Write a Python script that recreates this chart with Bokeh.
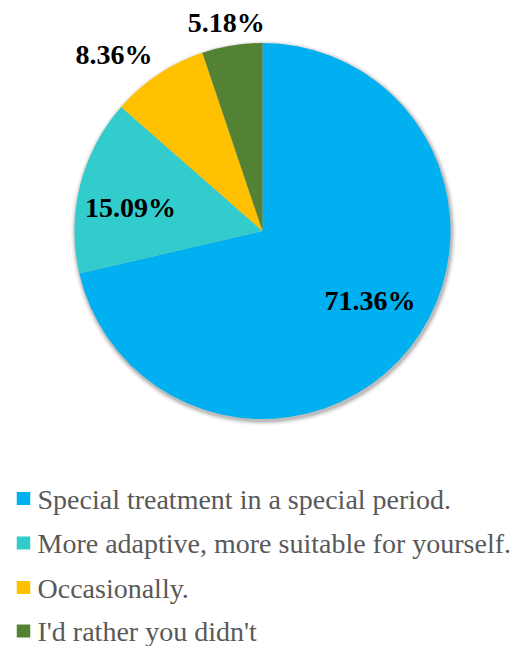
import numpy as np
from bokeh.plotting import figure
from bokeh.models import Range1d, ColumnDataSource
from bokeh.core.properties import value
from bokeh.embed import file_html
from bokeh.resources import INLINE

# Survey answers and their shares (%)
categories = [
    "Special treatment in a special period.",
    "More adaptive, more suitable for yourself.",
    "Occasionally.",
    "I'd rather you didn't",
]
shares = [71.36, 15.09, 8.36, 5.18]
colors = ["#00B0F0", "#33CCCC", "#FFC000", "#548235"]

W, H = 511, 646
cx, cy, R = 262.0, H - 230.5, 188.0

p = figure(width=W, height=H, output_backend="svg", toolbar_location=None,
           x_range=Range1d(0, W), y_range=Range1d(0, H), min_border=0)
p.axis.visible = False
p.grid.visible = False
p.outline_line_color = None
p.background_fill_color = "white"
p.border_fill_color = "white"

# Slices run clockwise from 12 o'clock
vals = np.array(shares, dtype=float)
frac = vals / vals.sum()
cum = np.concatenate([[0.0], np.cumsum(frac)])
start = np.pi / 2 - 2 * np.pi * cum[:-1]
end = np.pi / 2 - 2 * np.pi * cum[1:]
mid = (start + end) / 2

# Soft drop shadow behind the pie
for k, a in zip(range(1, 6), [0.10, 0.07, 0.05, 0.035, 0.02]):
    p.scatter(x=[cx + 1], y=[cy - 2], size=2 * (R + k), marker="circle",
              fill_color="black", fill_alpha=a, line_color=None)

src = ColumnDataSource(dict(start=start, end=end, color=colors))
p.wedge(x=cx, y=cy, radius=R, start_angle="start", end_angle="end",
        direction="clock", fill_color="color", line_color=None, source=src)

# Data labels, placed along each slice's mid-angle
label_r = [128, 134, 231, 212]
label_da = [5.5, 4.0, 6.3, 0.5]  # degrees
lx = [cx + r * np.cos(m + np.radians(d)) for r, m, d in zip(label_r, mid, label_da)]
ly = [cy + r * np.sin(m + np.radians(d)) for r, m, d in zip(label_r, mid, label_da)]
p.text(x=lx, y=ly, text=[f"{v:.2f}%" for v in shares],
       text_font=value("Liberation Serif"), text_font_style="bold",
       text_font_size="28px", text_color="black",
       text_align="center", text_baseline="middle")

# Legend below the pie
leg_y = [H - 498, H - 542.5, H - 587, H - 630.5]
p.rect(x=[23] * 4, y=leg_y, width=13.5, height=13,
       fill_color=colors, line_color=None)
p.text(x=[37] * 4, y=[v - 0.5 for v in leg_y], text=categories,
       text_font=value("Liberation Serif"), text_font_size="28px",
       text_color="#595959", text_align="left", text_baseline="middle")

open("out.html", "w").write(file_html(p, INLINE))
